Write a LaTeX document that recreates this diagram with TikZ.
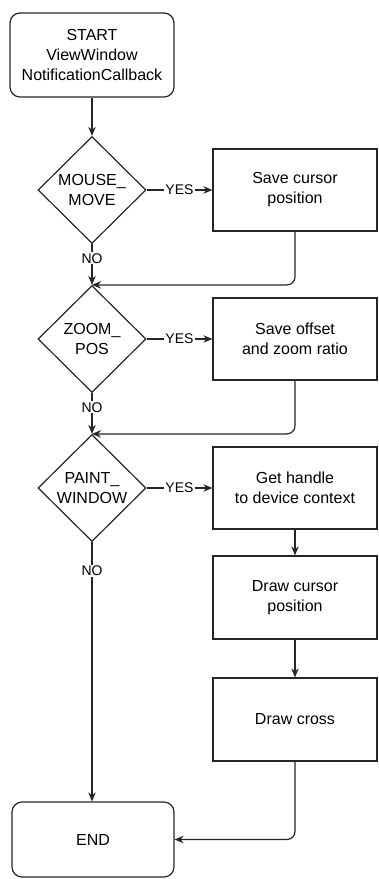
\documentclass[tikz,border=0pt]{standalone}
\usepackage{fontspec}
\setmainfont{Liberation Sans}
\usetikzlibrary{shapes.geometric,arrows.meta}

\begin{document}
\begin{tikzpicture}[x=1pt,y=-1pt,line width=1.2pt,font=\fontsize{16}{20}\selectfont,
  term/.style={draw=black!85,rectangle,rounded corners=10pt,minimum width=#1,minimum height=80pt,align=center},
  task/.style={draw=black!85,rectangle,minimum width=164pt,minimum height=82pt,align=center},
  ask/.style={draw=black!85,diamond,aspect=1,minimum width=108pt,minimum height=107pt,inner sep=0pt,align=center},
  arr/.style={draw=black!85,-{Stealth[length=9pt,width=7.5pt]}},
  lbl/.style={fill=white,inner sep=1pt,font=\fontsize{14}{16}\selectfont}]
\useasboundingbox (0,0) rectangle (378,879);
\node[term=164pt,minimum height=84pt] (start) at (92,55) {START\\ViewWindow\\NotificationCallback};
\foreach \i/\y/\q/\a in %
{1/190/{MOUSE\_\\MOVE}/{Save cursor\\position},
 2/339/{ZOOM\_\\POS}/{Save offset\\and zoom ratio},
 3/488/{PAINT\_\\WINDOW}/{Get handle\\to device context}} {
   \node[ask] (d\i) at (92,\y) {\q};
   \node[task] (b\i) at (295,\y) {\a};
   \draw[arr] (d\i.east) -- node[lbl]{YES} (d\i.east -| b\i.west);
}
\node[task,minimum height=83pt] (b4) at (295,597.5) {Draw cursor\\position};
\node[task,minimum height=83pt] (b5) at (295,719.5) {Draw cross};
\node[term=162pt,minimum height=75pt] (end) at (93,839.5) {END};
\draw[arr] (start) -- (d1);
\draw[arr] (d1) -- node[lbl,pos=0.35]{NO} (d2);
\draw[arr] (d2) -- node[lbl,pos=0.35]{NO} (d3);
\draw[arr] (d3.south) -- node[lbl,pos=0.11]{NO} (d3.south |- end.north);
\draw[arr,rounded corners=8pt] (b1.south) |- (d2.north);
\draw[arr,rounded corners=8pt] (b2.south) |- (d3.north);
\draw[arr] (b3) -- (b4);
\draw[arr] (b4) -- (b5);
\draw[arr,rounded corners=8pt] (b5.south) |- (end.east);
\end{tikzpicture}
\end{document}
